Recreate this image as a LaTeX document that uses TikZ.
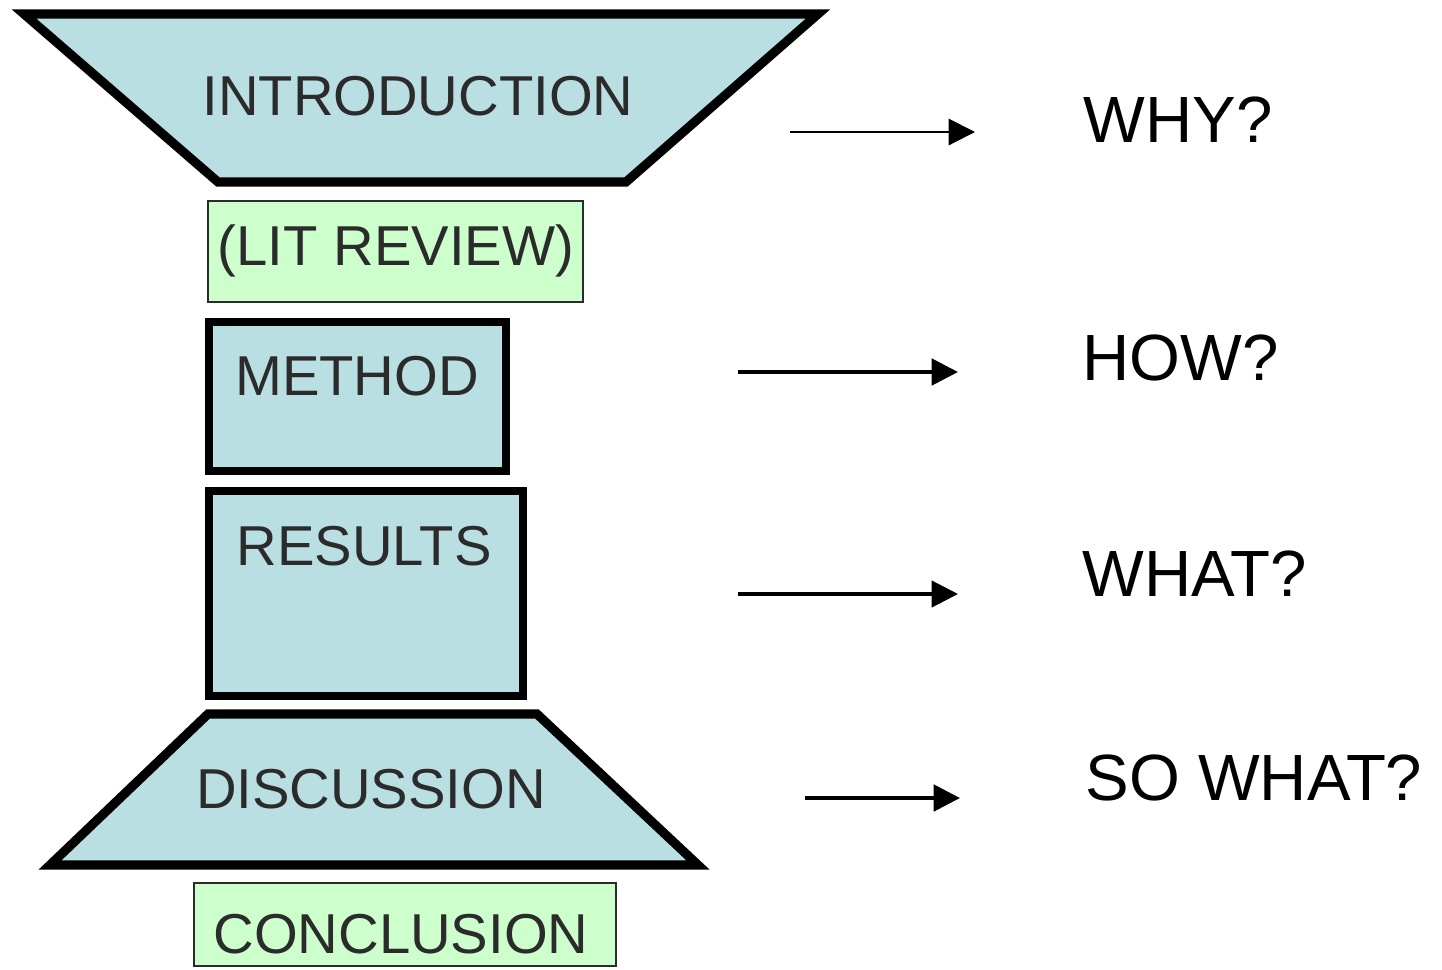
\documentclass[tikz,border=0pt]{standalone}
\usepackage{fontspec}
\setmainfont{Liberation Sans}
\usepackage{tikz}
\usetikzlibrary{positioning,arrows.meta}

\definecolor{paleblue}{HTML}{B9DFE3}
\definecolor{palegreen}{HTML}{CCFFCC}
\definecolor{inkgray}{HTML}{2B2B2B}

\begin{document}
\begin{tikzpicture}[%
    >={Triangle[length=7.5pt,width=7.5pt]},
    funnel/.style={draw=black, fill=paleblue, line width=2.6pt, line join=miter},
    bluebox/.style={draw=black, fill=paleblue, line width=2.4pt, inner sep=0},
    greenbox/.style={draw=inkgray, fill=palegreen, line width=0.7pt, inner sep=0},
    lbl/.style={anchor=base, inner sep=0, text=inkgray, font=\fontsize{16}{19}\selectfont},
    question/.style={anchor=base west, inner sep=0, font=\fontsize{18.6}{22}\selectfont},
    pointer/.style={->, line width=0.9pt, shorten >=1.24cm}
  ]
    \useasboundingbox (0,0) rectangle (14.42,-9.69);

    % the funnel, top to bottom
    \draw[funnel] (0.24,-0.14) -- (8.18,-0.14) -- (6.26,-1.82) -- (2.18,-1.82) -- cycle;
    \node[lbl] (intro) at (4.18,-1.15) {INTRODUCTION};

    \node[greenbox, minimum width=3.75cm, minimum height=1.01cm] (litbox) at (3.955,-2.515) {};
    \node[lbl] (lit) at (3.96,-2.65) {(LIT REVIEW)};

    \node[bluebox, minimum width=2.97cm, minimum height=1.49cm] (methodbox) at (3.575,-3.965) {};
    \node[lbl] (method) at (3.57,-3.95) {METHOD};

    \node[bluebox, minimum width=3.14cm, minimum height=2.05cm] (resultsbox) at (3.66,-5.935) {};
    \node[lbl] (results) at (3.64,-5.65) {RESULTS};

    \draw[funnel] (2.08,-7.14) -- (5.37,-7.14) -- (6.98,-8.65) -- (0.50,-8.65) -- cycle;
    \node[lbl] (discussion) at (3.71,-8.08) {DISCUSSION};

    \node[greenbox, minimum width=4.22cm, minimum height=0.83cm] (conclbox) at (4.05,-9.245) {};
    \node[lbl] (concl) at (4.01,-9.53) {CONCLUSION};

    % the questions
    \node[question] (why) at (10.83,-1.42) {WHY?};
    \node[question] (how) at (10.82,-3.80) {HOW?};
    \node[question] (what) at (10.82,-5.96) {WHAT?};
    \node[question] (sowhat) at (10.85,-8.00) {SO WHAT?};

    \coordinate (p1) at (7.90,-1.32);
    \coordinate (p2) at (7.38,-3.72);
    \coordinate (p3) at (7.38,-5.94);
    \coordinate (p4) at (8.05,-7.98);

    \draw[pointer, line width=0.6pt, shorten >=1.08cm] (p1) -- (p1 -| why.west);
    \draw[pointer, line width=1.1pt] (p2) -- (p2 -| how.west);
    \draw[pointer] (p3) -- (p3 -| what.west);
    \draw[pointer, line width=1.1pt, shorten >=1.25cm] (p4) -- (p4 -| sowhat.west);
  \end{tikzpicture}
\end{document}
